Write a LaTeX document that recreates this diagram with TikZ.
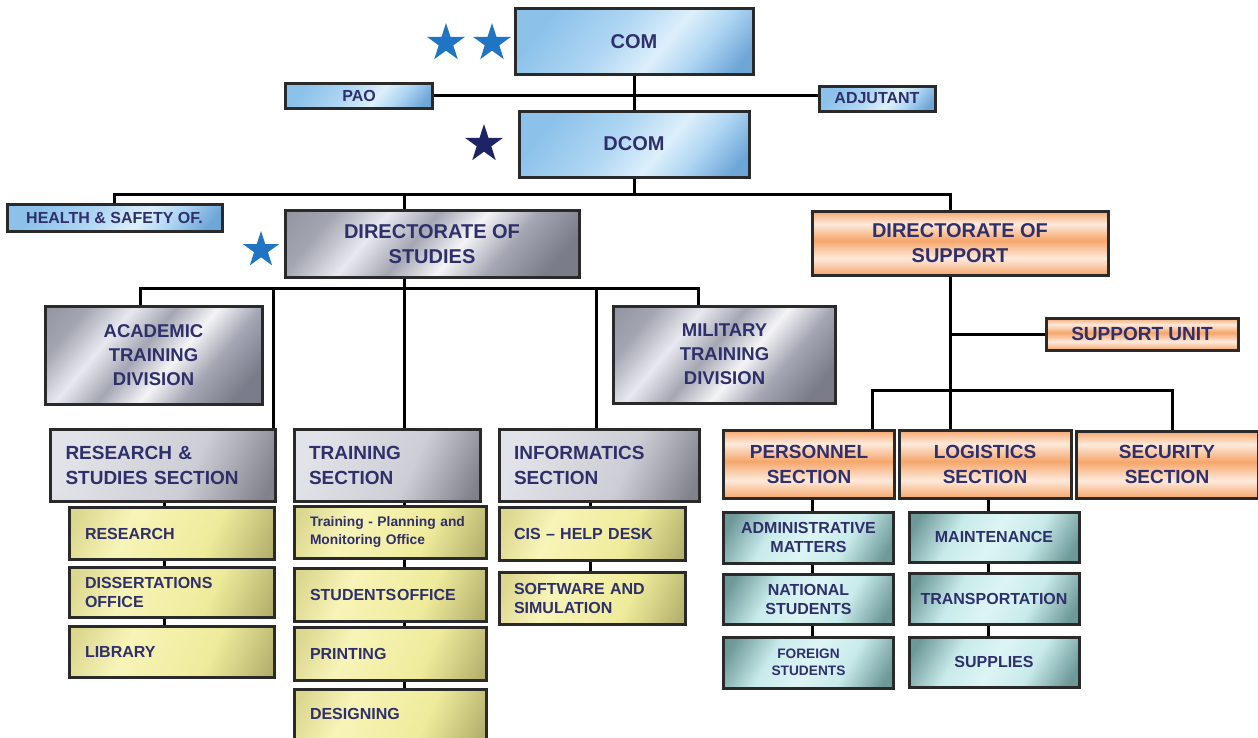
\documentclass[tikz,border=0pt]{standalone}
\usepackage{fontspec}
\setmainfont{Liberation Sans}
\usetikzlibrary{shapes.geometric}
\definecolor{bordc}{HTML}{2A2A2A}
\definecolor{txtc}{HTML}{2E2F6B}
\definecolor{starblue}{HTML}{1F74C4}
\definecolor{starnavy}{HTML}{1C2466}
\definecolor{blA}{HTML}{8CC2EA}
\definecolor{blB}{HTML}{AFD6F3}
\definecolor{blC}{HTML}{DDEFFB}
\definecolor{blD}{HTML}{6FA6D8}
\definecolor{sv0}{HTML}{7A7C89}
\definecolor{sv1}{HTML}{A3A5B1}
\definecolor{sv2}{HTML}{A4A6B3}
\definecolor{sv3}{HTML}{E8E9EF}
\definecolor{sv4}{HTML}{F4F4F7}
\definecolor{sc1}{HTML}{E2E3E8}
\definecolor{sc2}{HTML}{CDCED5}
\definecolor{sc3}{HTML}{80818B}
\definecolor{or1}{HTML}{F6A66B}
\definecolor{or2}{HTML}{FDEADC}
\definecolor{ye0}{HTML}{DCD78E}
\definecolor{ye1}{HTML}{EFEB9B}
\definecolor{ye2}{HTML}{F7F4B8}
\definecolor{ye3}{HTML}{B3AF6C}
\definecolor{te0}{HTML}{6E9999}
\definecolor{te1}{HTML}{C9EBEB}
\definecolor{te2}{HTML}{DDF4F4}
\pgfdeclarehorizontalshading{bluesh}{100bp}{color(0bp)=(blA); color(25bp)=(blA); color(44bp)=(blB); color(58bp)=(blC); color(68bp)=(blB); color(80bp)=(blD); color(100bp)=(blD)}
\pgfdeclarehorizontalshading{silversh}{100bp}{color(0bp)=(sv0); color(25bp)=(sv1); color(36bp)=(sv3); color(46bp)=(sv2); color(56bp)=(sv4); color(66bp)=(sv2); color(78bp)=(sv0); color(100bp)=(sv0)}
\pgfdeclarehorizontalshading{secsh}{100bp}{color(0bp)=(sc1); color(25bp)=(sc1); color(58bp)=(sc2); color(80bp)=(sc3); color(100bp)=(sc3)}
\pgfdeclareverticalshading{orangesh}{100bp}{color(0bp)=(or1); color(25bp)=(or1); color(38bp)=(or2); color(52bp)=(or1); color(65bp)=(or2); color(75bp)=(or1); color(100bp)=(or1)}
\pgfdeclarehorizontalshading{yellowsh}{100bp}{color(0bp)=(ye0); color(20bp)=(ye0); color(36bp)=(ye2); color(62bp)=(ye1); color(82bp)=(ye3); color(100bp)=(ye3)}
\pgfdeclarehorizontalshading{tealsh}{100bp}{color(0bp)=(te0); color(20bp)=(te0); color(36bp)=(te1); color(50bp)=(te2); color(64bp)=(te1); color(80bp)=(te0); color(100bp)=(te0)}
\newcommand\fz[2]{\fontsize{#1}{#2}\selectfont\bfseries}
\newcommand\vlink[3]{\draw[subconn] (#1 |- #2.south) -- (#1 |- #3.north);}
\begin{document}
\begin{tikzpicture}[x=1pt,y=-1pt,
  box/.style={draw=bordc, line width=3pt, inner sep=0pt, text=txtc, align=center, shade},
  bluebox/.style={box, shading=bluesh, shading angle=-40},
  silverbox/.style={box, shading=silversh, shading angle=-40},
  secbox/.style={box, shading=secsh, shading angle=-25, align=left, inner xsep=15pt},
  orangebox/.style={box, shading=orangesh},
  yellowbox/.style={box, shading=yellowsh, shading angle=-25, align=left, inner xsep=16pt, font=\fz{16}{19}},
  tealbox/.style={box, shading=tealsh, shading angle=-30, font=\fz{16}{19}},
  starn/.style={star, star points=5, star point ratio=2.618, minimum size=40pt, inner sep=0pt, draw=none},
  conn/.style={draw=black, line width=3pt},
  subconn/.style={draw=black, line width=3pt},
  sz/.style 2 args={minimum width=#1, minimum height=#2}
]
\fill[white] (0,0) rectangle (1258,737);
\useasboundingbox (0,0) rectangle (1258,737);

% top level
\node[bluebox, sz={238pt}{66pt}, font=\fz{20}{24}] (com) at (634,41.5) {COM};
\node[bluebox, sz={147pt}{25pt}, font=\fz{16}{18}] (pao) at (359,95.5) {PAO};
\node[bluebox, sz={116pt}{25pt}, font=\fz{16}{18}] (adj) at (877,98.5) {ADJUTANT};
\node[bluebox, sz={230pt}{66pt}, font=\fz{20}{24}] (dcom) at (634,144) {DCOM};
\node[bluebox, sz={215pt}{27pt}, font=\fz{16}{18}] (health) at (114.5,217.5) {HEALTH \& SAFETY OF.};

\node[starn, fill=starblue] (st1) at (446,43) {};
\node[starn, fill=starblue] (st2) at (492,43) {};
\node[starn, fill=starnavy] (st3) at (484,144) {};
\node[starn, fill=starblue, minimum size=38pt] (st4) at (261,250) {};

% directorates
\node[silverbox, sz={294pt}{67pt}, font=\fz{20}{25}] (dos) at (432,244) {DIRECTORATE OF\\STUDIES};
\node[orangebox, sz={296pt}{64pt}, font=\fz{20}{25}] (dsup) at (960,243) {DIRECTORATE OF\\SUPPORT};

\node[silverbox, sz={217pt}{98pt}, font=\fz{18.5}{24}] (acad) at (153.5,355) {ACADEMIC\\TRAINING\\DIVISION};
\node[silverbox, sz={222pt}{97pt}, font=\fz{18.5}{24}] (mil) at (724.5,354.5) {MILITARY\\TRAINING\\DIVISION};
\node[orangebox, sz={192pt}{32pt}, font=\fz{19}{22}] (supu) at (1142,334) {SUPPORT UNIT};

% sections
\node[secbox, text width=195pt, sz={225pt}{72pt}, font=\fz{19}{25}] (rss) at (163,465) {RESEARCH \&\\STUDIES SECTION};
\node[secbox, text width=156pt, sz={186pt}{72pt}, font=\fz{19}{25}] (trs) at (387,465) {TRAINING\\SECTION};
\node[secbox, text width=170pt, sz={200pt}{72pt}, font=\fz{19}{25}] (infs) at (599,465) {INFORMATICS\\SECTION};
\node[orangebox, sz={171pt}{68pt}, font=\fz{19}{25}] (pers) at (809,464) {PERSONNEL\\SECTION};
\node[orangebox, sz={172pt}{68pt}, font=\fz{19}{25}] (logs) at (985,464) {LOGISTICS\\SECTION};
\node[orangebox, sz={182pt}{67pt}, font=\fz{19}{25}] (secs) at (1167,464.5) {SECURITY\\SECTION};

% yellow offices
\node[yellowbox, text width=173pt, sz={205pt}{52pt}] (res) at (171.5,533.5) {RESEARCH};
\node[yellowbox, text width=173pt, sz={205pt}{50pt}] (diss) at (171.5,592) {DISSERTATIONS\\OFFICE};
\node[yellowbox, text width=173pt, sz={205pt}{51pt}] (lib) at (171.5,651.5) {LIBRARY};
\node[yellowbox, text width=160pt, sz={192pt}{52pt}, font=\fz{13.8}{18}] (tpm) at (390,532) {Training - Planning and\\Monitoring Office};
\node[yellowbox, text width=160pt, sz={192pt}{53pt}] (stu) at (390,594.5) {STUDENTS\kern1pt OFFICE};
\node[yellowbox, text width=160pt, sz={192pt}{53pt}] (pri) at (390,653.5) {PRINTING};
\node[yellowbox, text width=160pt, sz={192pt}{50pt}] (des) at (390,714) {DESIGNING};
\node[yellowbox, text width=156pt, sz={186pt}{53pt}, inner xsep=15pt] (cis) at (592,533.5) {CIS -- HELP DESK};
\node[yellowbox, text width=156pt, sz={186pt}{52pt}, inner xsep=15pt] (sw) at (592,598) {SOFTWARE AND\\SIMULATION};

% teal offices
\node[tealbox, sz={170pt}{51pt}] (adm) at (808.5,537.5) {ADMINISTRATIVE\\MATTERS};
\node[tealbox, sz={170pt}{50pt}] (nat) at (808.5,599) {NATIONAL\\STUDENTS};
\node[tealbox, sz={170pt}{51pt}, font=\fz{13.7}{17}] (forg) at (808.5,662.5) {FOREIGN\\STUDENTS};
\node[tealbox, sz={170pt}{50pt}] (mai) at (994,537) {MAINTENANCE};
\node[tealbox, sz={170pt}{51pt}] (tra) at (994,598.5) {TRANSPORTATION};
\node[tealbox, sz={170pt}{50pt}] (sup) at (994,662) {SUPPLIES};

% connectors top
\coordinate (jTop) at (634,194);
\coordinate (jSup) at (950,194);
\coordinate (jStu) at (404,194);
\draw[conn] (com.south) -- (dcom.north);
\draw[conn] (pao.east) -- (pao.east -| adj.west);
\draw[conn] (dcom.south) -- (jTop);
\draw[conn] (health.north) |- (jSup) -- (jSup |- dsup.north);
\draw[conn] (jStu) -- (jStu |- dos.north);

% studies bus
\coordinate (jS) at (404,288);
\coordinate (xAc) at (140,288);
\coordinate (xRs) at (273,288);
\coordinate (xIn) at (596,288);
\coordinate (xMi) at (698,288);
\draw[conn] (jS |- dos.south) -- (jS);
\draw[conn] (xAc |- acad.north) -- (xAc) -- (xMi) -- (xMi |- mil.north);
\draw[conn] (xRs) -- (xRs |- rss.north);
\draw[conn] (jS) -- (jS |- trs.north);
\draw[conn] (xIn) -- (xIn |- infs.north);

% support bus
\coordinate (jU) at (950,334);
\coordinate (jP) at (950,390);
\coordinate (xPe) at (872,390);
\coordinate (xSe) at (1172,390);
\draw[conn] (jU |- dsup.south) -- (jP);
\draw[conn] (jU) -- (supu.west);
\draw[conn] (xPe |- pers.north) -- (xPe) -- (xSe) -- (xSe |- secs.north);
\draw[conn] (jP) -- (jP |- logs.north);

% sub columns
\coordinate (cR) at (164,0);
\coordinate (cT) at (404,0);
\coordinate (cI) at (590,0);
\coordinate (cP) at (812,0);
\coordinate (cL) at (988,0);
\vlink{cR}{rss}{res}
\vlink{cR}{res}{diss}
\vlink{cR}{diss}{lib}
\vlink{cT}{trs}{tpm}
\vlink{cT}{tpm}{stu}
\vlink{cT}{stu}{pri}
\vlink{cT}{pri}{des}
\vlink{cI}{infs}{cis}
\vlink{cI}{cis}{sw}
\vlink{cP}{pers}{adm}
\vlink{cP}{adm}{nat}
\vlink{cP}{nat}{forg}
\vlink{cL}{logs}{mai}
\vlink{cL}{mai}{tra}
\vlink{cL}{tra}{sup}
\end{tikzpicture}
\end{document}
